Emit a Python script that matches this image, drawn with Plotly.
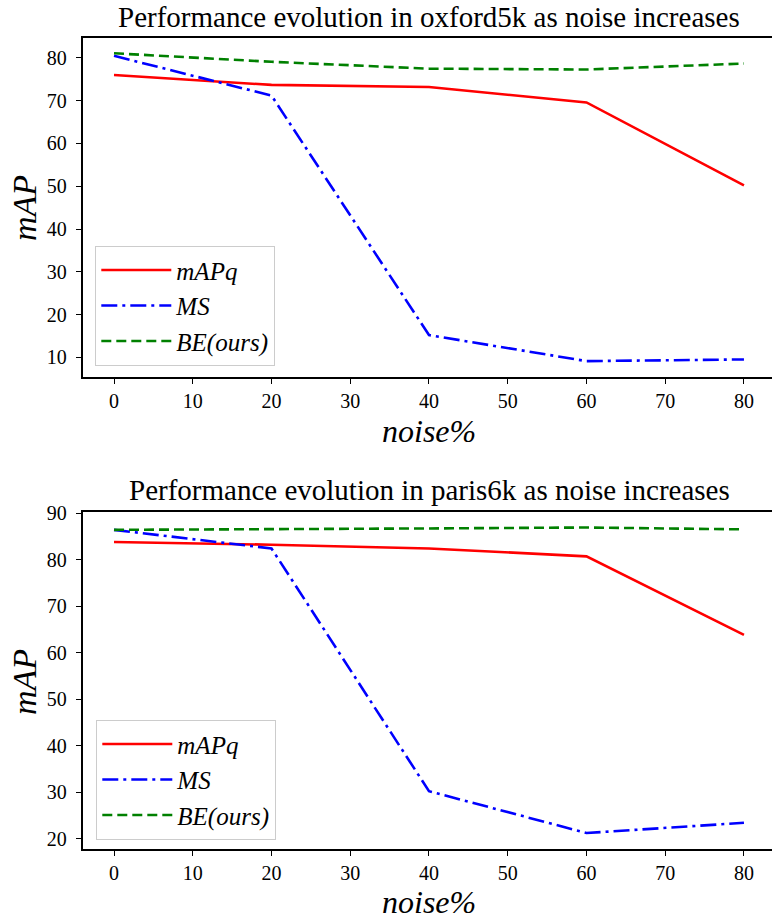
import plotly.graph_objects as go

# noise levels (%)
noise = [0, 20, 40, 60, 80]

# oxford5k mAP per method
ox_mapq = [76.0, 73.7, 73.2, 69.6, 50.2]
ox_ms = [80.5, 71.2, 15.2, 9.1, 9.5]
ox_be = [81.1, 79.1, 77.5, 77.3, 78.7]

# paris6k mAP per method
pa_mapq = [83.8, 83.2, 82.4, 80.7, 63.8]
pa_ms = [86.4, 82.4, 30.2, 21.2, 23.4]
pa_be = [86.4, 86.5, 86.7, 86.9, 86.5]

names = ["mAPq", "MS", "BE(ours)"]
colors = ["#ff0000", "#0000ff", "#008000"]
dashes = ["solid", "16px,5px,3px,5px", "10px,5px"]

W, H = 772, 915
SERIF = "Liberation Serif"

fig = go.Figure()

panels = [
    ("x", "y", "legend", [ox_mapq, ox_ms, ox_be]),
    ("x2", "y2", "legend2", [pa_mapq, pa_ms, pa_be]),
]
for xa, ya, leg, series in panels:
    for name, vals, col, dash in zip(names, series, colors, dashes):
        fig.add_trace(go.Scatter(
            x=noise, y=vals, mode="lines", name=name,
            line=dict(color=col, width=2.6, dash=dash),
            xaxis=xa, yaxis=ya, legend=leg,
            hoverinfo="skip",
        ))

def px_x(v):
    return v / W

def px_y(v):
    return 1 - v / H

axis_common = dict(
    showline=True, linecolor="black", linewidth=1.6,
    ticks="outside", ticklen=5, tickwidth=1.3, tickcolor="black",
    tickfont=dict(family=SERIF, size=20, color="black"),
    showgrid=False, zeroline=False, automargin=False,
)

x_dom = [px_x(82.5), 1.0]
x_common = dict(range=[-4, 83.56], tickvals=list(range(0, 90, 10)), mirror=True,
                ticklabelstandoff=0, domain=x_dom, **axis_common)
fig.update_layout(
    width=W, height=H,
    margin=dict(l=0, r=0, t=0, b=0),
    paper_bgcolor="white", plot_bgcolor="white",
    xaxis=dict(anchor="y", **x_common),
    yaxis=dict(domain=[px_y(376.7), px_y(38.3)], anchor="x", range=[5.46, 84.6],
               tickvals=list(range(10, 90, 10)), ticklabelstandoff=5, **axis_common),
    xaxis2=dict(anchor="y2", **x_common),
    yaxis2=dict(domain=[px_y(849.3), px_y(511.7)], anchor="x2", range=[17.7, 90.3],
                tickvals=list(range(20, 100, 10)), ticklabelstandoff=5, **axis_common),
)

legend_style = dict(
    xanchor="left", yanchor="top",
    bgcolor="white", bordercolor="#cccccc", borderwidth=1.3,
    font=dict(family=SERIF, size=25, color="black", style="italic"),
    itemwidth=70,
)
fig.update_layout(
    legend=dict(x=px_x(95), y=px_y(246), **legend_style),
    legend2=dict(x=px_x(96), y=px_y(720), **legend_style),
)

titles = [
    ("Performance evolution in oxford5k as noise increases", 17),
    ("Performance evolution in paris6k as noise increases", 490),
]
for text, yc in titles:
    fig.add_annotation(text=text, x=px_x(429), y=px_y(yc), xref="paper", yref="paper",
                       xanchor="center", yanchor="middle", showarrow=False,
                       font=dict(family=SERIF, size=29, color="black"))

for yc in (208, 682):
    fig.add_annotation(text="mAP", x=px_x(24), y=px_y(yc), xref="paper", yref="paper",
                       xanchor="center", yanchor="middle", showarrow=False, textangle=-90,
                       font=dict(family=SERIF, size=34, color="black", style="italic"))
for yc in (431, 902):
    fig.add_annotation(text="noise%", x=px_x(429), y=px_y(yc), xref="paper", yref="paper",
                       xanchor="center", yanchor="middle", showarrow=False,
                       font=dict(family=SERIF, size=32, color="black", style="italic"))

fig.write_html("out.html")
